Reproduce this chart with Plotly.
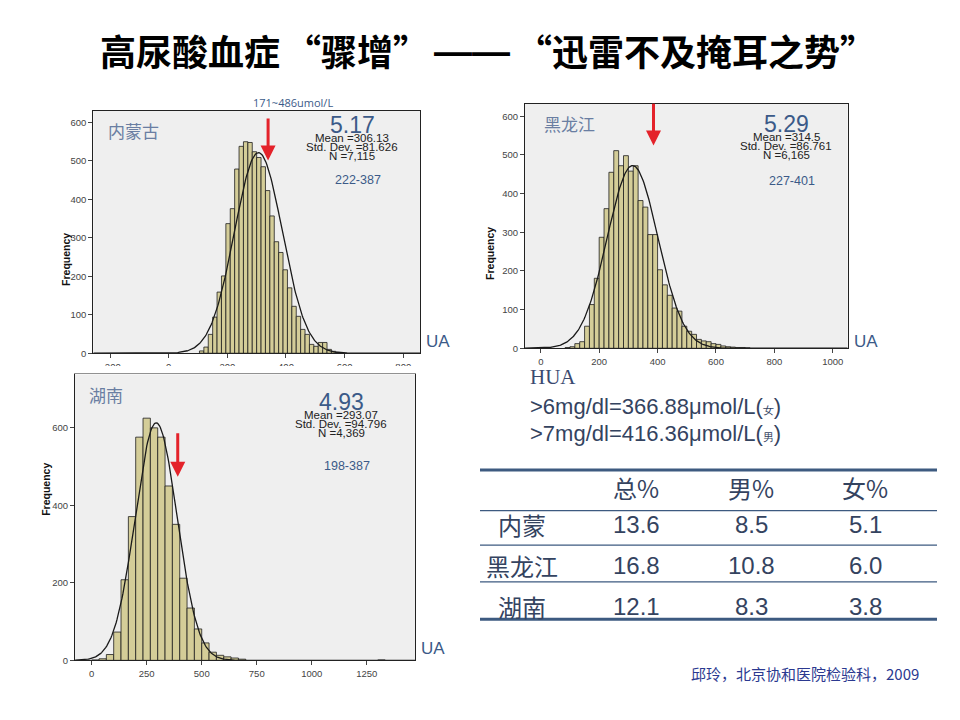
import numpy as np
import plotly.graph_objects as go

# the page keeps an 8px body margin, so the figure is made 16px smaller
OFF = 8
W, H = 960 - 2 * OFF, 720 - 2 * OFF

# bin counts
nm_counts = [6, 16, 49, 94, 159, 201, 337, 376, 479, 538, 550, 548, 524, 509, 485, 423,
             357, 290, 262, 217, 170, 122, 96, 62, 49, 23, 18, 28, 28, 10, 5, 2]
nm_start, nm_width = 105, 15
nm_stats = (306.13, 81.626, 7115)

hlj_counts = [2, 4, 12, 17, 57, 113, 181, 287, 361, 455, 511, 472, 498, 458, 472, 382,
              365, 294, 294, 203, 164, 137, 104, 96, 57, 44, 36, 23, 19, 17, 12, 10,
              6, 4, 3, 2, 2, 1]
hlj_start, hlj_width = 83.333, 16.667
hlj_stats = (314.5, 86.761, 6165)

hn_counts = [1, 4, 15, 73, 208, 371, 576, 625, 600, 576, 450, 351, 212, 135, 81, 45,
             21, 13, 9, 6, 3]
hn_start, hn_width = 0, 33.333
hn_outlier_x = [1316.7]
hn_outlier_n = [1]
hn_stats = (293.07, 94.796, 4369)

# arrow positions (UA value, tail count, head count)
nm_arrow = (339, 614, 501)
hlj_arrow = (386, 636, 524)
hn_arrow = (391, 590, 474)

# table
tbl_cols = ["总%", "男%", "女%"]
tbl_rows = ["内蒙", "黑龙江", "湖南"]
tbl_vals = [["13.6", "8.5", "5.1"],
            ["16.8", "10.8", "6.0"],
            ["12.1", "8.3", "3.8"]]

BLUE = "#3b5a88"
LABEL = "#6a7ea2"
TXT = "#34435f"
CJK = "Noto Sans CJK SC"
SANS = "Liberation Sans, Arial"


def px(x, y):
    return (x - OFF) / W, 1 - (y - OFF) / H


def xdom(a, b):
    return [px(a, 0)[0], px(b, 0)[0]]


def ydom(top, bottom):
    return [px(0, bottom)[1], px(0, top)[1]]


fig = go.Figure()
bar_style = dict(color="#d4cd98", line=dict(color="#1e1e1e", width=0.8))


def add_hist(counts, start, width, stats, xa, ya, xr):
    centers = [start + width * (i + 0.5) for i in range(len(counts))]
    fig.add_trace(go.Bar(x=centers, y=counts, width=width, xaxis=xa, yaxis=ya,
                         marker=bar_style, showlegend=False))
    mean, sd, n = stats
    xs = np.linspace(xr[0], xr[1], 400)
    ys = n * width * np.exp(-0.5 * ((xs - mean) / sd) ** 2) / (sd * np.sqrt(2 * np.pi))
    fig.add_trace(go.Scatter(x=xs, y=ys, mode="lines", xaxis=xa, yaxis=ya,
                             line=dict(color="#1a1a1a", width=1.3), showlegend=False))


add_hist(nm_counts, nm_start, nm_width, nm_stats, "x", "y", (-257, 857))
add_hist(hlj_counts, hlj_start, hlj_width, hlj_stats, "x2", "y2", (-54, 1051))
add_hist(hn_counts, hn_start, hn_width, hn_stats, "x3", "y3", (-75, 1469))
fig.add_trace(go.Bar(x=hn_outlier_x, y=hn_outlier_n, width=hn_width, xaxis="x3", yaxis="y3",
                     marker=bar_style, showlegend=False))

axis_common = dict(showgrid=False, zeroline=False, showline=True, mirror=True,
                   linecolor="#222", linewidth=1, ticks="outside", ticklen=4,
                   tickcolor="#444", tickfont=dict(family=SANS, size=9.5, color="#444"))

fig.update_layout(
    width=W, height=H, margin=dict(l=0, r=0, t=0, b=0),
    paper_bgcolor="white", plot_bgcolor="#efefef", barmode="overlay",
    xaxis=dict(domain=xdom(93.3, 420), range=[-257, 857],
               tickvals=[-200, 0, 200, 400, 600, 800], anchor="y", **axis_common),
    yaxis=dict(domain=ydom(111.7, 355.7), range=[0, 630], dtick=100,
               anchor="x", **axis_common),
    xaxis2=dict(domain=xdom(525, 847.7), range=[-54, 1051],
                tickvals=[0, 200, 400, 600, 800, 1000], anchor="y2", **axis_common),
    yaxis2=dict(domain=ydom(104.3, 350.7), range=[0, 632.6], dtick=100,
                anchor="x2", **axis_common),
    xaxis3=dict(domain=xdom(75, 415), range=[-75.8, 1469],
                tickvals=[0, 250, 500, 750, 1000, 1250], anchor="y3", **axis_common),
    yaxis3=dict(domain=ydom(377, 665), range=[0, 738],
                tickvals=[0, 200, 400, 600], anchor="x3", **axis_common),
)

ann = []


def text(x, y, s, size, color, family=SANS, xanchor="center"):
    xp, yp = px(x, y)
    ann.append(dict(x=xp, y=yp, xref="paper", yref="paper", text=s, showarrow=False,
                    xanchor=xanchor, yanchor="middle",
                    font=dict(size=size, color=color, family=family)))


def freq(x, y):
    xp, yp = px(x, y)
    ann.append(dict(x=xp, y=yp, xref="paper", yref="paper", text="<b>Frequency</b>",
                    showarrow=False, textangle=-90,
                    font=dict(size=10.5, color="#111", family=SANS)))


def arrow(a, xa, ya):
    ann.append(dict(x=a[0], y=a[2], ax=a[0], ay=a[1], xref=xa, yref=ya,
                    axref=xa, ayref=ya, text="", showarrow=True, arrowhead=2,
                    arrowsize=1, arrowwidth=3, arrowcolor="#e4222a"))


def stats_block(x, y0, stats, big, rng, ry):
    mean, sd, n = stats
    text(x, y0 - 13, big, 23, BLUE)
    text(x, y0, "Mean =%s" % mean, 11.5, "#222")
    text(x, y0 + 9, "Std. Dev. =%s" % sd, 11.5, "#222")
    text(x, y0 + 18, "N =%s" % format(n, ","), 11.5, "#222")
    text(x + 6, ry, rng, 12.5, BLUE)


# title, in pieces so the gaps match
title_font = 36
text(98, 50, "<b>高尿酸血症</b>", title_font, "#000", CJK, "left")
text(357, 50, "<b>“骤增”</b>", title_font, "#000", CJK)
text(472, 52, "<b>——</b>", 38, "#000", SANS)
text(696, 50, "<b>“迅雷不及掩耳之势”</b>", title_font, "#000", CJK)

# Neimenggu
text(133, 131, "内蒙古", 17, LABEL, CJK)
stats_block(352, 139, nm_stats, "5.17", "222-387", 181)
text(293, 103, "171~486umol/L", 11, BLUE, "Open Sans")
text(438, 344, "UA", 17, BLUE)
freq(58, 233)
arrow(nm_arrow, "x", "y")

# Heilongjiang
text(569, 124, "黑龙江", 17, LABEL, CJK)
stats_block(786, 138, hlj_stats, "5.29", "227-401", 182)
text(866, 344, "UA", 17, BLUE)
freq(490, 227)
arrow(hlj_arrow, "x2", "y2")

# Hunan
text(106, 397, "湖南", 17, LABEL, CJK)
stats_block(341, 418, hn_stats, "4.93", "198-387", 469)
text(433, 653, "UA", 17, BLUE)
freq(38, 522)
arrow(hn_arrow, "x3", "y3")

# HUA definition
text(528, 380, "HUA", 21, "#3a4a70", "Liberation Serif", "left")
text(528, 409, '>6mg/dl=366.88μmol/L(<span style="font-size:11px">女</span>)', 22, TXT,
     SANS, "left")
text(528, 437, '>7mg/dl=416.36μmol/L(<span style="font-size:11px">男</span>)', 22, TXT,
     SANS, "left")

# table
col_x = [636, 751, 865]
row_y = [528, 569, 611]
for cx, c in zip(col_x, tbl_cols):
    text(cx, 491, c, 24, TXT, CJK)
for ry, r, vals in zip(row_y, tbl_rows, tbl_vals):
    text(522, ry, r, 24, TXT, CJK)
    for cx, v in zip(col_x, vals):
        text(cx, ry, v, 24, TXT)

text(921, 678, "邱玲，北京协和医院检验科，2009", 15, "#2b3990", CJK, "right")

shapes = []
for y, w in [(473.3, 3), (514.3, 1.2), (549, 1.2), (586, 1.2), (623.7, 3)]:
    x0, y0 = px(480, y)
    x1, _ = px(937, y)
    shapes.append(dict(type="line", xref="paper", yref="paper",
                       x0=x0, x1=x1, y0=y0, y1=y0,
                       line=dict(color="#3d5a80", width=w)))
# Hunan image overlapping the lower half of the Neimenggu tick labels
rx0, ry0 = px(40, 376)
rx1, ry1 = px(428, 368.5)
shapes.append(dict(type="rect", xref="paper", yref="paper", layer="above",
                   x0=rx0, x1=rx1, y0=ry0, y1=ry1,
                   line=dict(width=0), fillcolor="white"))

fig.update_layout(annotations=ann, shapes=shapes)
fig.write_html("out.html")
